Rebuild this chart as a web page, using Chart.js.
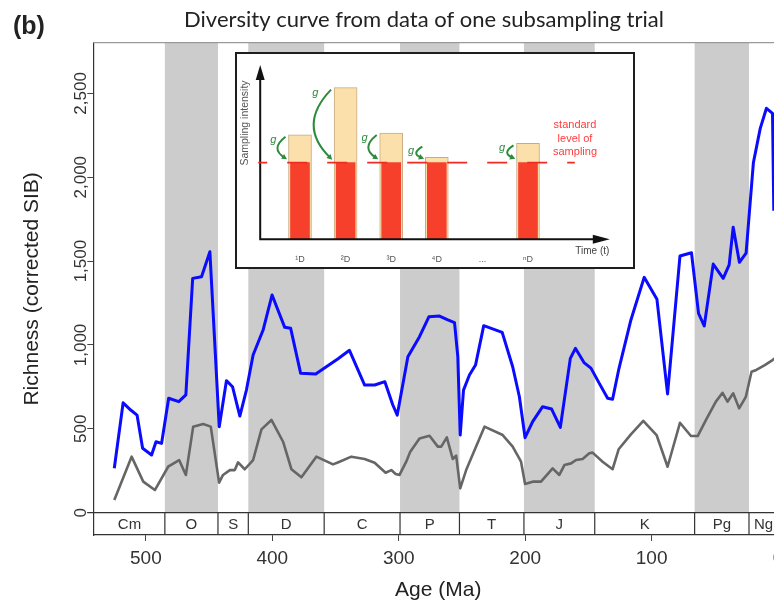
<!DOCTYPE html>
<html>
<head>
<meta charset="utf-8">
<script src="https://cdn.jsdelivr.net/npm/chart.js@4/dist/chart.umd.min.js"></script>
<style>
  html, body { margin: 0; padding: 0; background: #fff; overflow: hidden; }
  #wrap { position: relative; width: 774px; height: 604px; overflow: hidden; }
  #main { position: absolute; left: 0; top: 0; }
  #inset { position: absolute; left: 235px; top: 52px; width: 396px; height: 213px;
           border: 2px solid #1e1e1e; background: #fff; }
</style>
</head>
<body>
<div id="wrap">
  <canvas id="main" width="790" height="604"></canvas>
  <div id="inset"><canvas id="insetChart" width="396" height="213"></canvas></div>
</div>
<script>
// --- data: corrected SIB richness (blue) ---
const blueAges = [525, 518, 512, 507, 502.6, 495.5, 492, 487.6, 482, 474, 468.4, 463, 456, 449.4, 442,
  436.3, 431.5, 425.7, 420.5, 415.2, 407.3, 400.2, 390.2, 385.5, 377.6, 365.7, 357.3, 348, 339, 327,
  319, 311, 304.7, 301.2, 292.8, 283.6, 276.2, 267.8, 261.2, 255.9, 253.3, 251.4, 248.8, 244.1, 239.3,
  232.8, 218.2, 209.9, 204.6, 200.1, 194.1, 186.2, 179.1, 172.2, 164.3, 160.3, 153.5, 148, 141.4, 134.8,
  130.9, 126.1, 116.4, 105.9, 95.8, 87.4, 77.6, 68.5, 62.9, 58.4, 51.3, 43.4, 38.7, 35.5, 30.6,
  25.3, 19.5, 14.1, 9.2, 4.4, 3.4];
const blueValues = [265, 655, 612, 582, 384, 344, 423, 413, 682, 662, 702, 1397, 1407, 1556, 513,
  787, 751, 576, 731, 940, 1089, 1298, 1105, 1099, 831, 827, 870, 918, 968, 761,
  761, 781, 642, 582, 930, 1049, 1168, 1172, 1149, 1133, 930, 463, 731, 821, 880,
  1115, 1075, 870, 691, 447, 543, 632, 618, 509, 920, 980, 895, 862, 771, 682,
  676, 851, 1149, 1403, 1272, 708, 1530, 1550, 1188, 1113, 1482, 1397, 1477, 1702, 1493,
  1548, 2088, 2291, 2411, 2381, 1800];

// --- data: second curve (grey) ---
const grayAges = [525, 511.3, 502.1, 492.9, 482.4, 473.7, 468.4, 462.6, 454.7, 448.7, 442.1, 439, 433.6, 429.7, 427.1,
  421.8, 415.2, 408.6, 400.7, 391.5, 384.9, 377, 365.2, 352, 346.8, 337.5, 327, 319.1, 310.4, 305.9,
  302.5, 299.4, 294.1, 290.9, 283.6, 275.7, 269.1, 266.4, 262, 257.3, 254.6, 251.4, 246.7, 232.2, 217.8,
  209.9, 203.3, 200.1, 194.1, 187.5, 178.3, 173, 169, 163.7, 159.8, 154.6, 149.3, 146.7, 138.8, 130.9,
  126.1, 116.4, 106.6, 96.1, 87.4, 77.6, 68.9, 63.6, 57, 49.2, 43.9, 40, 35.5, 30.8, 25.5,
  21, 17.2, 10.5, 4.4, 1];
const grayValues = [76, 334, 185, 135, 274, 314, 225, 513, 529, 513, 179, 225, 254, 254, 300,
  259, 314, 497, 553, 423, 259, 211, 334, 288, 304, 334, 320, 298, 238, 254,
  231, 225, 304, 364, 443, 459, 394, 394, 449, 320, 340, 145, 254, 513, 463,
  394, 304, 171, 185, 185, 264, 225, 284, 294, 314, 320, 354, 358, 304, 259,
  378, 467, 548, 463, 274, 536, 457, 457, 553, 662, 715, 662, 712, 622, 691,
  840, 851, 880, 910, 930];

// --- geological periods ---
const periodNames  = ['Cm', 'O', 'S', 'D', 'C', 'P', 'T', 'J', 'K', 'Pg', 'Ng'];
const periodStarts = [541, 485, 443, 419, 359, 299, 252, 201, 145, 66, 23];
const periodEnds   = [485, 443, 419, 359, 299, 252, 201, 145, 66, 23, 0];
const shadedPeriods = ['O', 'D', 'P', 'J', 'Pg'];

const xTickValues = [500, 400, 300, 200, 100, 0];
const yTickValues = [0, 500, 1000, 1500, 2000, 2500];

// --- inset schematic ---
const insetLabels = ['\u00b9D', '\u00b2D', '\u00b3D', '\u2074D', '...', '\u207fD'];
const sampledIntensity = [6.0, 8.7, 6.1, 4.7, null, 5.5];
const subsampledIntensity = [4.4, 4.4, 4.4, 4.4, null, 4.4];
const standardLevel = 4.4;

const FONT = "'Liberation Sans', Arial, sans-serif";

const geoPlugin = {
  id: 'geo',
  beforeDatasetsDraw(chart) {
    const { ctx, chartArea: a, scales: { x, y } } = chart;
    const y0 = y.getPixelForValue(0);
    ctx.save();
    ctx.fillStyle = '#cccccc';
    periodNames.forEach((name, i) => {
      if (!shadedPeriods.includes(name)) return;
      const x1 = x.getPixelForValue(periodStarts[i]);
      const x2 = x.getPixelForValue(periodEnds[i]);
      ctx.fillRect(x1, a.top, x2 - x1, y0 - a.top);
    });
    // period bar under the zero line
    ctx.strokeStyle = '#333';
    ctx.lineWidth = 1.2;
    ctx.beginPath();
    ctx.moveTo(a.left - 6, y0);
    ctx.lineTo(a.right, y0);
    periodStarts.forEach(s => {
      const px = x.getPixelForValue(s);
      if (px > a.left + 2) { ctx.moveTo(px, y0); ctx.lineTo(px, a.bottom); }
    });
    ctx.stroke();
    ctx.fillStyle = '#333';
    ctx.font = '15px ' + FONT;
    ctx.textAlign = 'center';
    ctx.textBaseline = 'middle';
    periodNames.forEach((name, i) => {
      const xm = x.getPixelForValue((Math.min(periodStarts[i], x.max) + periodEnds[i]) / 2);
      ctx.fillText(name, xm, (y0 + a.bottom) / 2 + 1);
    });
    ctx.restore();
  },
  afterDraw(chart) {
    const { ctx, chartArea: a, scales: { y } } = chart;
    ctx.save();
    // frame top / right
    ctx.strokeStyle = '#999';
    ctx.lineWidth = 1.2;
    ctx.beginPath();
    ctx.moveTo(a.left, a.top);
    ctx.lineTo(a.right, a.top);
    ctx.lineTo(a.right, a.bottom);
    ctx.stroke();
    // rotated y tick labels
    ctx.fillStyle = '#333';
    ctx.font = '17px ' + FONT;
    ctx.textAlign = 'center';
    ctx.textBaseline = 'middle';
    y.ticks.forEach(t => {
      ctx.save();
      ctx.translate(a.left - 12, y.getPixelForValue(t.value));
      ctx.rotate(-Math.PI / 2);
      ctx.fillText(t.value.toLocaleString('en-US'), 0, 0);
      ctx.restore();
    });
    // title and panel letter
    ctx.fillStyle = '#222';
    ctx.font = '22px Lato, ' + FONT;
    ctx.fillText('Diversity curve from data of one subsampling trial', 424, 20);
    ctx.font = 'bold 25px ' + FONT;
    ctx.textAlign = 'left';
    ctx.fillText('(b)', 13, 27);
    ctx.restore();
  }
};

new Chart(document.getElementById('main'), {
  type: 'line',
  data: {
    datasets: [
      {
        label: 'grey curve',
        data: grayAges.map((a, i) => ({ x: a, y: grayValues[i] })),
        borderColor: '#666666', borderWidth: 2.6, pointRadius: 0, tension: 0,
        borderJoinStyle: 'round'
      },
      {
        label: 'corrected SIB',
        data: blueAges.map((a, i) => ({ x: a, y: blueValues[i] })),
        borderColor: '#0b0bff', borderWidth: 3, pointRadius: 0, tension: 0,
        borderJoinStyle: 'round'
      }
    ]
  },
  options: {
    responsive: false,
    animation: false,
    layout: { padding: { top: 42.7, right: 6, left: 0, bottom: 0 } },
    plugins: { legend: { display: false }, tooltip: { enabled: false } },
    scales: {
      x: {
        type: 'linear', reverse: true, min: -4, max: 541.6,
        afterBuildTicks: s => { s.ticks = xTickValues.map(v => ({ value: v })); },
        afterFit: s => { s.height = 69; },
        grid: { drawOnChartArea: false, drawTicks: true, tickLength: 6, color: '#444' },
        border: { color: '#333', width: 1.2 },
        ticks: { font: { family: FONT, size: 19 }, color: '#333', padding: 6.6, maxRotation: 0, autoSkip: false },
        title: { display: true, text: 'Age (Ma)', font: { family: FONT, size: 21 }, color: '#222',
                 padding: { top: 0, bottom: 1.4 } }
      },
      y: {
        min: -133, max: 2802,
        afterBuildTicks: s => { s.ticks = yTickValues.map(v => ({ value: v })); },
        afterFit: s => { s.width = 93.3; },
        grid: { drawOnChartArea: false, drawTicks: true, tickLength: 6, color: '#444' },
        border: { color: '#333', width: 1.2 },
        ticks: { display: false },
        title: { display: true, text: 'Richness (corrected SIB)', font: { family: FONT, size: 21 }, color: '#222',
                 padding: { top: 19.4, bottom: 0 } }
      }
    }
  },
  plugins: [geoPlugin]
});

// --- inset decorations: arrows, standard level, g arcs, texts ---
const insetPlugin = {
  id: 'insetDecor',
  afterDatasetsDraw(chart) {
    const { ctx, chartArea: a, scales: { y } } = chart;
    const ax = a.left - 17, ay = a.bottom, xEnd = a.right + 59;
    ctx.save();
    ctx.strokeStyle = '#111';
    ctx.fillStyle = '#111';
    ctx.lineWidth = 2;
    ctx.beginPath();
    ctx.moveTo(ax, ay); ctx.lineTo(ax, a.top + 10);
    ctx.moveTo(ax - 1, ay); ctx.lineTo(xEnd - 10, ay);
    ctx.stroke();
    ctx.beginPath();
    ctx.moveTo(ax, a.top); ctx.lineTo(ax - 4.5, a.top + 15); ctx.lineTo(ax + 4.5, a.top + 15);
    ctx.closePath(); ctx.fill();
    ctx.beginPath();
    ctx.moveTo(xEnd, ay); ctx.lineTo(xEnd - 17, ay - 4.5); ctx.lineTo(xEnd - 17, ay + 4.5);
    ctx.closePath(); ctx.fill();

    // standard level of sampling
    const ly = y.getPixelForValue(standardLevel);
    ctx.strokeStyle = '#ee2b22';
    ctx.lineWidth = 1.8;
    ctx.setLineDash([20, 20]);
    ctx.lineDashOffset = 11;
    ctx.beginPath(); ctx.moveTo(ax - 2, ly); ctx.lineTo(a.right + 24, ly); ctx.stroke();
    ctx.setLineDash([]);

    // green "g" arcs from sampled to standard level
    const tan = chart.getDatasetMeta(0).data;
    const red = chart.getDatasetMeta(1).data;
    ctx.strokeStyle = '#2e8b3d';
    ctx.fillStyle = '#2e8b3d';
    ctx.lineWidth = 2;
    tan.forEach((bar, i) => {
      if (sampledIntensity[i] == null) return;
      const left = bar.x - bar.width / 2;
      const yBot = red[i].y - 2;
      const yTop = Math.min(bar.y + 2, yBot - 14);
      const bulge = 6 + (yBot - yTop) * 0.4;
      const x0 = left - 3;
      const midY = (yTop + yBot) / 2;
      const ex = x0 - 1, ey = yBot - 3;
      ctx.beginPath(); ctx.moveTo(x0, yTop); ctx.quadraticCurveTo(x0 - bulge, midY, ex, ey); ctx.stroke();
      const ang = Math.atan2(ey - midY, ex - (x0 - bulge));
      const tx = ex + Math.cos(ang) * 3, ty = ey + Math.sin(ang) * 3;
      ctx.beginPath();
      ctx.moveTo(tx, ty);
      ctx.lineTo(tx - 6 * Math.cos(ang - 0.5), ty - 6 * Math.sin(ang - 0.5));
      ctx.lineTo(tx - 6 * Math.cos(ang + 0.5), ty - 6 * Math.sin(ang + 0.5));
      ctx.closePath(); ctx.fill();
      ctx.font = 'italic 11px ' + FONT;
      ctx.textAlign = 'center';
      ctx.textBaseline = 'middle';
      ctx.fillText('g', left - 12 - bulge * 0.2, Math.min(bar.y + 5, red[i].y - 12));
    });

    // texts
    ctx.fillStyle = '#555';
    ctx.font = '10.5px ' + FONT;
    ctx.textAlign = 'center';
    ctx.textBaseline = 'middle';
    ctx.save();
    ctx.translate(ax - 15, a.top + 58);
    ctx.rotate(-Math.PI / 2);
    ctx.fillText('Sampling intensity', 0, 0);
    ctx.restore();
    ctx.fillStyle = '#444';
    ctx.font = '10px ' + FONT;
    ctx.fillText('Time (t)', a.right + 41.5, a.bottom + 12.4);
    ctx.fillStyle = '#ff3b3b';
    ctx.font = '11px ' + FONT;
    ['standard', 'level of', 'sampling'].forEach((s, k) => {
      ctx.fillText(s, a.right + 24.2, ly - 37.3 + k * 13.3);
    });
    ctx.restore();
  }
};

new Chart(document.getElementById('insetChart'), {
  type: 'bar',
  data: {
    labels: insetLabels,
    datasets: [
      { label: 'sampled', data: sampledIntensity, backgroundColor: '#fbe0ab', borderColor: '#c9ab80',
        borderWidth: 1, barThickness: 23, grouped: false, order: 2 },
      { label: 'subsampled', data: subsampledIntensity, backgroundColor: '#f6402c',
        barThickness: 19, grouped: false, order: 1 }
    ]
  },
  options: {
    responsive: false,
    animation: false,
    layout: { padding: { left: 40.2, right: 82.2, top: 11, bottom: 0 } },
    plugins: { legend: { display: false }, tooltip: { enabled: false } },
    scales: {
      x: {
        grid: { display: false }, border: { display: false },
        ticks: { font: { family: FONT, size: 9 }, color: '#555', padding: 7 },
        afterFit: s => { s.height = 27.7; }
      },
      y: { display: false, min: 0, max: 10 }
    }
  },
  plugins: [insetPlugin]
});
</script>
</body>
</html>
